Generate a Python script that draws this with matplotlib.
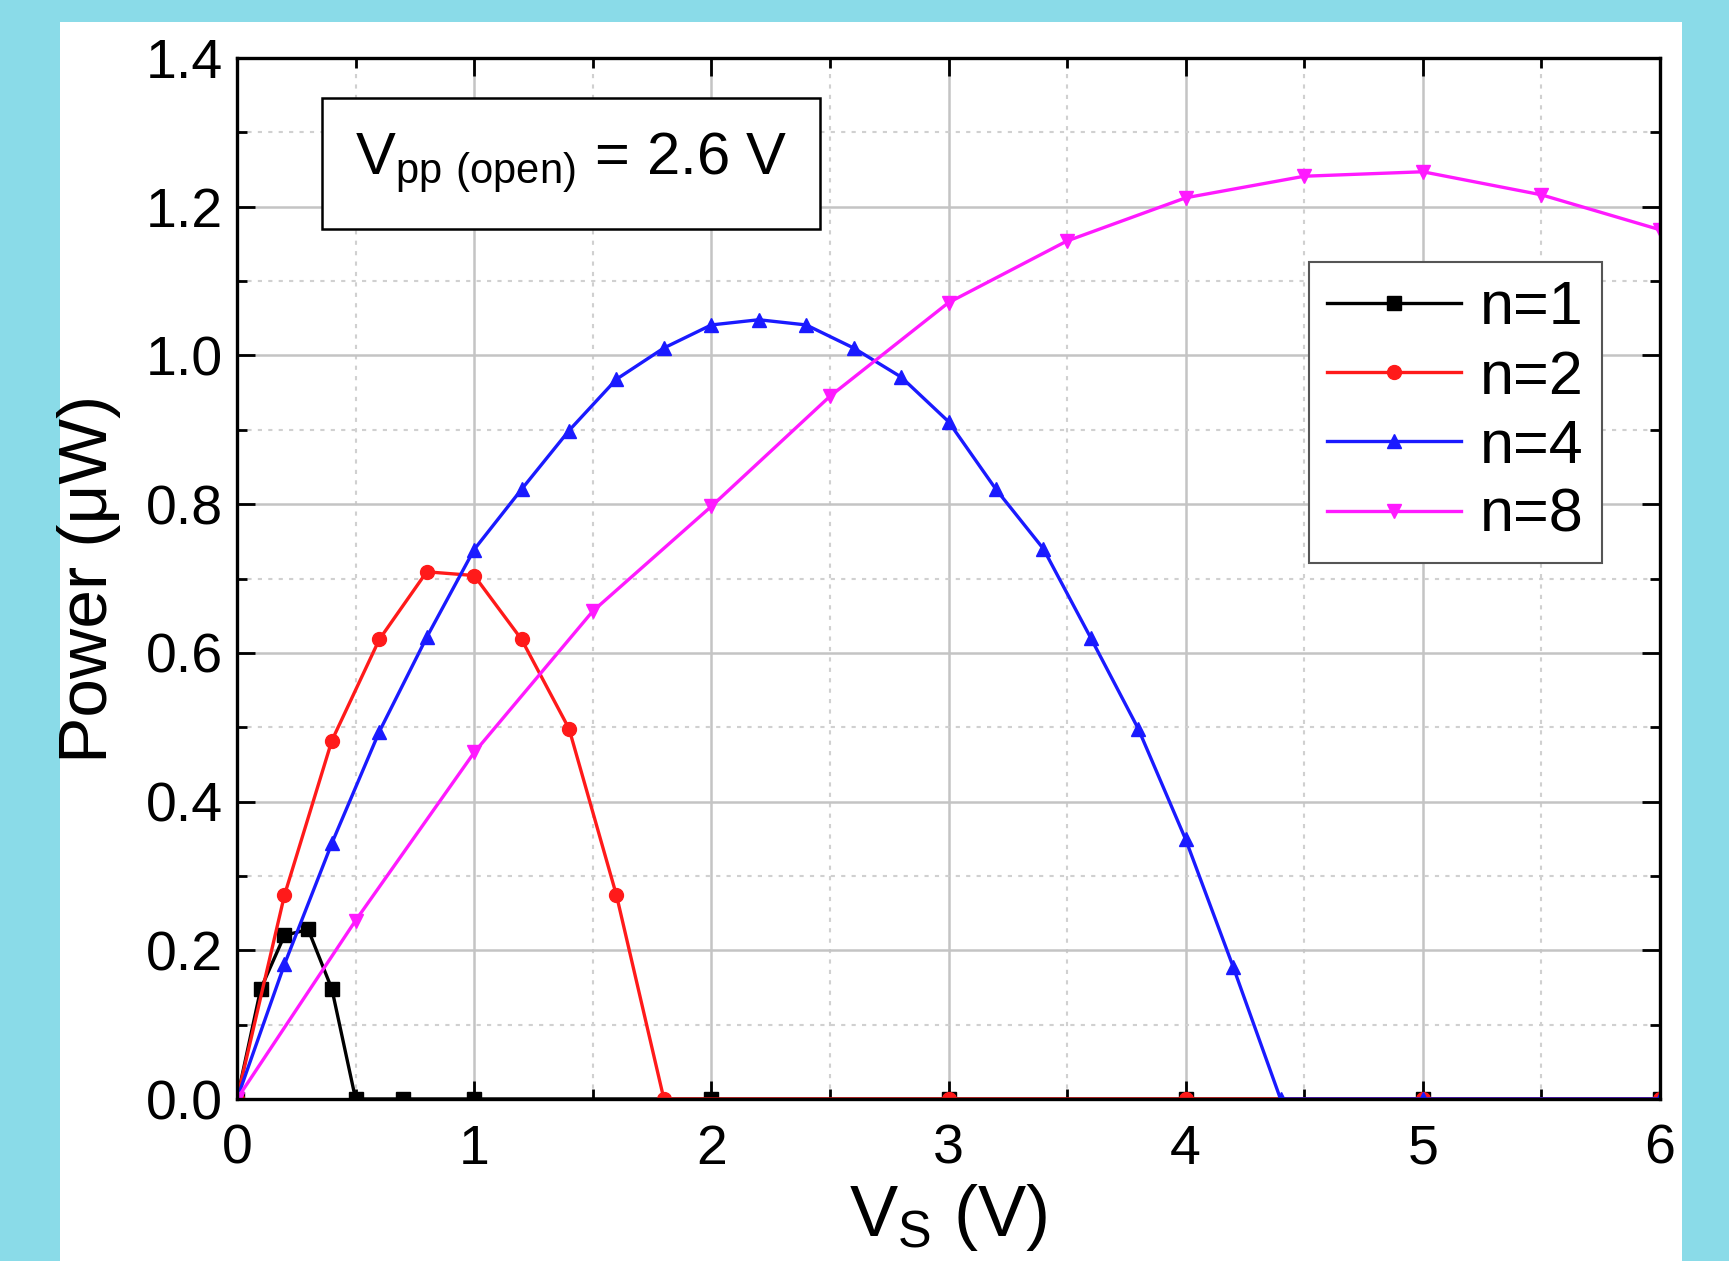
import matplotlib
matplotlib.use("Agg")
import matplotlib.pyplot as plt
from matplotlib.patches import Rectangle
from matplotlib.ticker import MultipleLocator

plt.rcParams['font.family'] = ['Liberation Sans', 'DejaVu Sans']
plt.rcParams['mathtext.fontset'] = 'custom'
plt.rcParams['mathtext.rm'] = 'Liberation Sans'

# data
vs_n1 = [0, 0.1, 0.2, 0.3, 0.4, 0.5, 0.7, 1.0, 2.0, 3.0, 4.0, 5.0, 6.0]
p_n1 = [0, 0.148, 0.22, 0.228, 0.148, 0, 0, 0, 0, 0, 0, 0, 0]

vs_n2 = [0, 0.2, 0.4, 0.6, 0.8, 1.0, 1.2, 1.4, 1.6, 1.8, 3.0, 4.0, 5.0, 6.0]
p_n2 = [0, 0.274, 0.482, 0.618, 0.709, 0.704, 0.618, 0.498, 0.274, 0, 0, 0, 0, 0]

vs_n4 = [0, 0.2, 0.4, 0.6, 0.8, 1.0, 1.2, 1.4, 1.6, 1.8, 2.0, 2.2, 2.4, 2.6,
         2.8, 3.0, 3.2, 3.4, 3.6, 3.8, 4.0, 4.2, 4.4, 5.0, 6.0]
p_n4 = [0, 0.181, 0.344, 0.494, 0.621, 0.739, 0.820, 0.899, 0.968, 1.010, 1.041,
        1.048, 1.041, 1.010, 0.971, 0.911, 0.820, 0.740, 0.620, 0.498, 0.349,
        0.178, 0, 0, 0]

vs_n8 = [0, 0.5, 1.0, 1.5, 2.0, 2.5, 3.0, 3.5, 4.0, 4.5, 5.0, 5.5, 6.0]
p_n8 = [0, 0.240, 0.466, 0.656, 0.797, 0.945, 1.071, 1.154, 1.212, 1.241,
        1.247, 1.216, 1.169]

series = [
    (vs_n1, p_n1, "n=1", "black", "s"),
    (vs_n2, p_n2, "n=2", "#ff1a1a", "o"),
    (vs_n4, p_n4, "n=4", "#1a1aff", "^"),
    (vs_n8, p_n8, "n=8", "#ff1aff", "v"),
]

fig = plt.figure(figsize=(17.29, 12.61), dpi=100, facecolor="#8adbe8")
# white panel behind the chart
fig.patches.append(Rectangle((60 / 1729, 0), (1682 - 60) / 1729, 1 - 22 / 1261,
                             transform=fig.transFigure, facecolor="white",
                             edgecolor="none", zorder=-10))

ax = fig.add_axes([237 / 1729, 1 - 1099 / 1261, (1660 - 237) / 1729, (1099 - 58) / 1261])

for x, y, label, color, marker in series:
    ax.plot(x, y, color=color, marker=marker, markersize=10, linewidth=2.4, label=label)

ax.set_xlim(0, 6)
ax.set_ylim(0, 1.4)
ax.xaxis.set_major_locator(MultipleLocator(1))
ax.xaxis.set_minor_locator(MultipleLocator(0.5))
ax.yaxis.set_major_locator(MultipleLocator(0.2))
ax.yaxis.set_minor_locator(MultipleLocator(0.1))
ax.yaxis.set_major_formatter(matplotlib.ticker.FormatStrFormatter("%.1f"))

ax.grid(True, which="major", color="#c4c4c4", linewidth=1.8)
ax.grid(True, which="minor", color="#d0d0d0", linewidth=1.5, linestyle=(0, (2, 3)))
ax.set_axisbelow(True)

ax.tick_params(which="both", direction="in", top=True, right=True, width=2)
ax.tick_params(which="major", length=13, labelsize=40, pad=10)
ax.tick_params(axis="x", which="major", pad=18)
ax.tick_params(which="minor", length=7)
for s in ax.spines.values():
    s.set_linewidth(2.4)

ax.set_xlabel(r"V$_{\mathregular{S}}$ (V)", fontsize=52, labelpad=4)
ax.set_ylabel("Power (μW)", fontsize=50, labelpad=18)

ax.text(1.41, 1.258, r"V$_{\mathregular{pp\ (open)}}$ = 2.6 V", fontsize=43,
        ha="center", va="center", transform=ax.transData,
        bbox=dict(boxstyle="square,pad=0.55", facecolor="white", edgecolor="black", linewidth=1.8))

leg = ax.legend(loc="upper right", bbox_to_anchor=((1602 - 237) / 1423, 1 - (262 - 58) / 1041),
                borderaxespad=0, fontsize=44, fancybox=False, framealpha=1,
                edgecolor="#555555", handlelength=2.2, labelspacing=0.2,
                handletextpad=0.3, borderpad=0.3)
leg.get_frame().set_linewidth(1.5)

fig.savefig("out.png", dpi=100, facecolor=fig.get_facecolor())
